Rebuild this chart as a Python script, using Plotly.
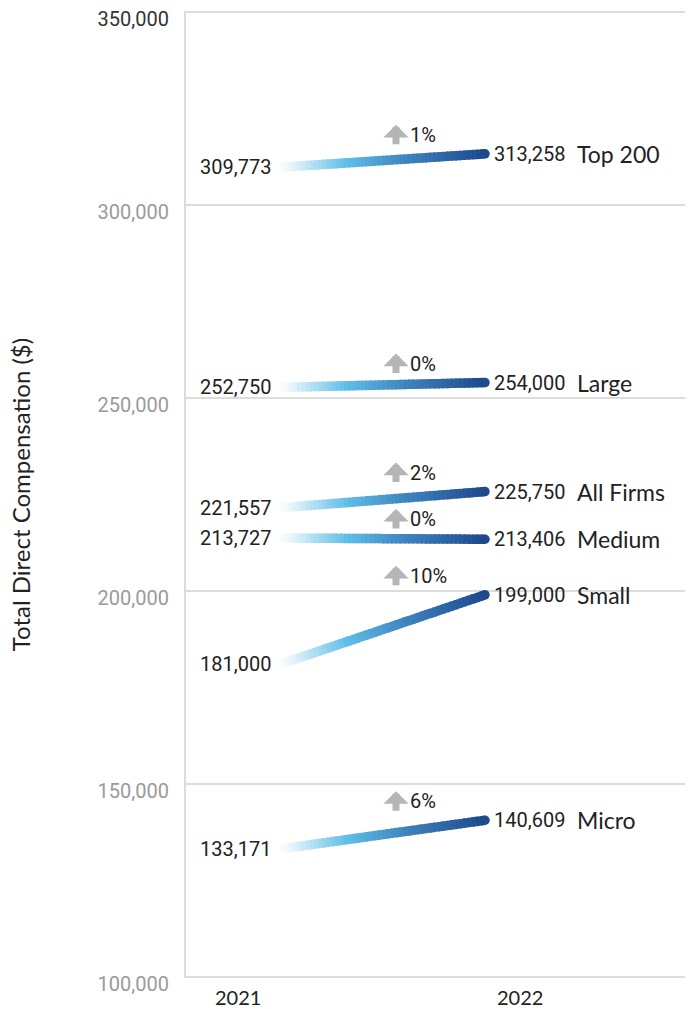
import plotly.graph_objects as go

# ---- data ----
series = ["Top 200", "Large", "All Firms", "Medium", "Small", "Micro"]
val_2021 = [309773, 252750, 221557, 213727, 181000, 133171]
val_2022 = [313258, 254000, 225750, 213406, 199000, 140609]
pct_change = ["1%", "0%", "2%", "0%", "10%", "6%"]
years = [2021, 2022]
year_labels = ["2021", "2022"]
y_ticks = [100000, 150000, 200000, 250000, 300000, 350000]
y_tick_text = ["100,000", "150,000", "200,000", "250,000", "300,000", "350,000"]

# ---- style ----
NUM_FONT = "Roboto, sans-serif"
NAME_FONT = "Lato, Noto Sans, sans-serif"
GRID = "#dcdcdc"
STOPS = [(0.0, (255, 255, 255)), (0.06, (232, 244, 251)), (0.33, (94, 190, 231)),
         (0.62, (63, 131, 190)), (1.0, (29, 74, 140))]
END_COLOR = "#1d4a8c"
LINE_W = 9.5
N_SEG = 48


def grad(t):
    for (t0, c0), (t1, c1) in zip(STOPS[:-1], STOPS[1:]):
        if t <= t1:
            f = (t - t0) / (t1 - t0) if t1 > t0 else 0
            c = [round(a + (b - a) * f) for a, b in zip(c0, c1)]
            return "rgb(%d,%d,%d)" % tuple(c)
    return "rgb(%d,%d,%d)" % STOPS[-1][1]


fig = go.Figure()

# gradient rendering of each 2021 -> 2022 line (segments lie on the straight line)
x0, x1 = years
for i in range(N_SEG):
    ta = i / N_SEG
    tb = min(1.0, (i + 1.4) / N_SEG)
    xs, ys = [], []
    for a, b in zip(val_2021, val_2022):
        xs += [x0 + ta * (x1 - x0), x0 + tb * (x1 - x0), None]
        ys += [a + ta * (b - a), a + tb * (b - a), None]
    fig.add_trace(go.Scatter(x=xs, y=ys, mode="lines",
                             line=dict(color=grad((ta + tb) / 2), width=LINE_W),
                             hoverinfo="skip", showlegend=False))

# round end caps at 2022
fig.add_trace(go.Scatter(x=[x1] * len(series), y=val_2022, mode="markers",
                         marker=dict(color=END_COLOR, size=LINE_W, line=dict(width=0)),
                         hoverinfo="skip", showlegend=False))

ann = []
PCT_T = 0.566
for name, a, b, p in zip(series, val_2021, val_2022, pct_change):
    ann.append(dict(x=x0, y=a, xref="x", yref="y", text=f"{a:,}", showarrow=False,
                    xanchor="right", yanchor="middle", xshift=-7,
                    font=dict(family=NUM_FONT, size=20, color="#222222")))
    ann.append(dict(x=x1, y=b, xref="x", yref="y", text=f"{b:,}", showarrow=False,
                    xanchor="left", yanchor="middle", xshift=7,
                    font=dict(family=NUM_FONT, size=20, color="#222222")))
    ann.append(dict(x=x1, y=b, xref="x", yref="y", text=name, showarrow=False,
                    xanchor="left", yanchor="middle", xshift=90,
                    font=dict(family=NAME_FONT, size=23, color="#222222")))
    xp = x0 + PCT_T * (x1 - x0)
    top = max(a, b)
    ann.append(dict(x=xp, y=top, xref="x", yref="y", text="", showarrow=True,
                    ax=0, ay=21, yshift=29,
                    arrowhead=1, arrowsize=0.6, arrowwidth=7, arrowcolor="#b5b5b5"))
    ann.append(dict(x=xp, y=top, xref="x", yref="y", text=p, showarrow=False,
                    xanchor="left", yanchor="middle", xshift=12, yshift=19,
                    font=dict(family=NUM_FONT, size=20, color="#222222")))

for yr, lab, sh in zip(years, year_labels, [-42, 35]):
    ann.append(dict(x=yr, y=0, xref="x", yref="paper", text=lab, showarrow=False,
                    xanchor="center", yanchor="middle", xshift=sh, yshift=-19,
                    font=dict(family=NAME_FONT, size=20, color="#222222")))

# horizontal grid lines at the tick values
shapes = [dict(type="line", xref="paper", x0=0, x1=1, yref="y", y0=v, y1=v,
               line=dict(color=GRID, width=2), layer="below") for v in y_ticks]

tick_text = [f"<span style='color:#333333'>{t}</span>" if v == max(y_ticks) else t
             for v, t in zip(y_ticks, y_tick_text)]

fig.update_layout(
    width=690, height=1009,
    margin=dict(l=186, r=5, t=11, b=31),
    paper_bgcolor="white", plot_bgcolor="white",
    annotations=ann, shapes=shapes,
    xaxis=dict(range=[2020.5415, 2022.9756], showgrid=False, zeroline=False,
               showticklabels=False, showline=False, fixedrange=True),
    yaxis=dict(range=[99740, 350260], tickvals=y_ticks, ticktext=tick_text,
               showgrid=False, zeroline=False,
               showline=True, linecolor=GRID, linewidth=2,
               ticks="", ticklabelstandoff=11, ticklabelshift=7,
               tickfont=dict(family=NUM_FONT, size=20, color="#9a9a9a"),
               title=dict(text="Total Direct Compensation ($)", standoff=60,
                          font=dict(family=NAME_FONT, size=24, color="#222222")),
               fixedrange=True),
)

fig.write_html("out.html")
